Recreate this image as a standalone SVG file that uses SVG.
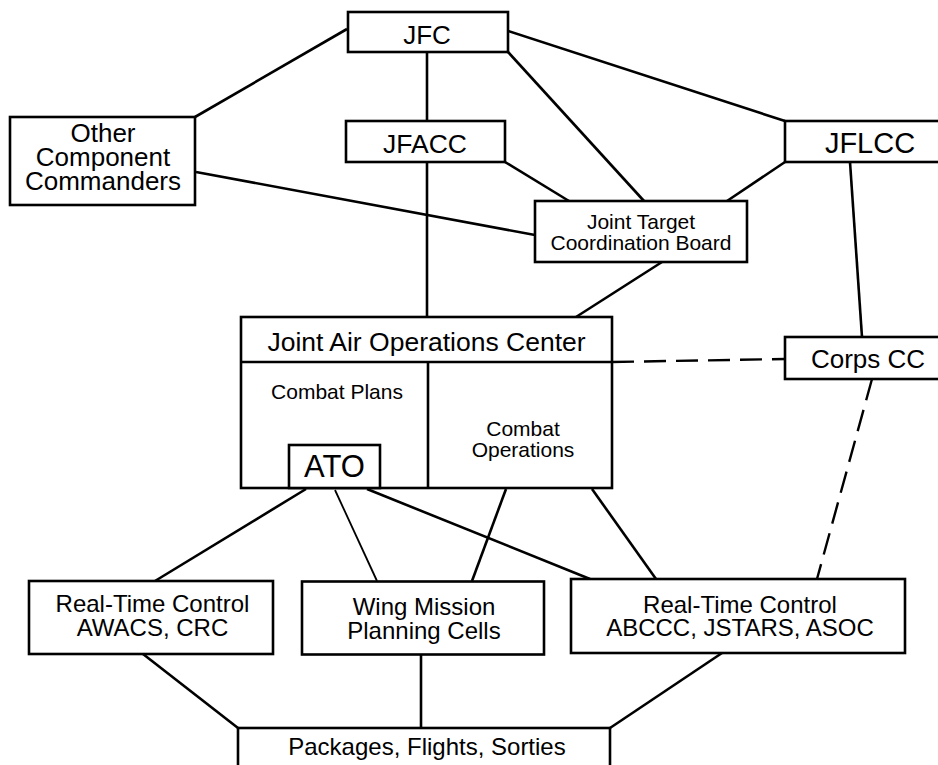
<svg xmlns="http://www.w3.org/2000/svg" width="938" height="765" viewBox="0 0 938 765">
  <style>
    .box { fill: #fff; stroke: #000; stroke-width: 2.6; }
    .ln { fill: none; stroke: #000; stroke-width: 2.6; }
    .thin { fill: none; stroke: #000; stroke-width: 1.8; }
    .dash { fill: none; stroke: #000; stroke-width: 2.4; stroke-dasharray: 22 10; }
    text { font-family: "Liberation Sans", Arial, Helvetica, sans-serif; fill: #000; text-anchor: middle; }
  </style>
  <rect width="938" height="765" fill="#fff"/>

  <!-- connectors -->
  <g id="connectors">
    <line class="ln" x1="347" y1="29" x2="195" y2="117"/>
    <line class="ln" x1="427" y1="52" x2="427" y2="121"/>
    <line class="ln" x1="508" y1="31" x2="785" y2="121"/>
    <line class="ln" x1="508" y1="52" x2="644" y2="201"/>
    <line class="ln" x1="505" y1="162" x2="569" y2="201"/>
    <line class="ln" x1="785" y1="162" x2="727" y2="201"/>
    <line class="ln" x1="196" y1="172" x2="535" y2="235"/>
    <line class="ln" x1="427" y1="162" x2="427" y2="317"/>
    <line class="ln" x1="662" y1="262" x2="576" y2="317"/>
    <line class="ln" x1="850" y1="162" x2="862" y2="337"/>
    <line class="dash" x1="612" y1="362" x2="785" y2="359"/>
    <line class="dash" x1="872" y1="379" x2="817" y2="579"/>
    <line class="thin" x1="383" y1="464" x2="453" y2="446"/>
    <line class="ln" x1="306" y1="489" x2="155" y2="581"/>
    <line class="thin" x1="335" y1="490" x2="377" y2="581"/>
    <line class="ln" x1="367" y1="489" x2="590" y2="579"/>
    <line class="ln" x1="506" y1="489" x2="472" y2="581"/>
    <line class="ln" x1="592" y1="489" x2="656" y2="579"/>
    <line class="ln" x1="143" y1="654" x2="238" y2="728"/>
    <line class="ln" x1="421" y1="654" x2="421" y2="728"/>
    <line class="ln" x1="722" y1="653" x2="610" y2="728"/>
  </g>

  <g id="jfc">
    <rect class="box" x="348" y="12" width="160" height="40"/>
    <text x="427" y="44" font-size="26">JFC</text>
  </g>

  <g id="jfacc">
    <rect class="box" x="346" y="121" width="159" height="41"/>
    <text x="425" y="153" font-size="26.5">JFACC</text>
  </g>

  <g id="other-commanders">
    <rect class="box" x="10" y="117" width="185" height="88"/>
    <text x="103" y="142" font-size="26">Other</text>
    <text x="103" y="166" font-size="26">Component</text>
    <text x="103" y="189.5" font-size="26">Commanders</text>
  </g>

  <g id="jflcc">
    <rect class="box" x="785" y="121" width="168" height="41"/>
    <text x="870" y="153" font-size="29">JFLCC</text>
  </g>

  <g id="jtcb">
    <rect class="box" x="535" y="201" width="212" height="61"/>
    <text x="641" y="229" font-size="21">Joint Target</text>
    <text x="641" y="249.5" font-size="21">Coordination Board</text>
  </g>

  <g id="jaoc">
    <rect class="box" x="241" y="317" width="371" height="171"/>
    <line class="ln" x1="241" y1="362" x2="612" y2="362"/>
    <line class="ln" x1="428" y1="362" x2="428" y2="488"/>
    <text x="426.5" y="351" font-size="26.5">Joint Air Operations Center</text>
    <text x="337" y="399" font-size="21">Combat Plans</text>
    <text x="523" y="436" font-size="21">Combat</text>
    <text x="523" y="457" font-size="21">Operations</text>
  </g>

  <g id="ato">
    <rect class="box" x="289" y="445" width="91" height="43"/>
    <text x="334.5" y="477" font-size="31">ATO</text>
  </g>

  <g id="corps-cc">
    <rect class="box" x="785" y="337" width="168" height="42"/>
    <text x="868" y="368" font-size="26">Corps CC</text>
  </g>

  <g id="rtc-awacs">
    <rect class="box" x="29" y="581" width="244" height="73"/>
    <text x="152.5" y="612" font-size="24">Real-Time Control</text>
    <text x="152.5" y="635.5" font-size="24">AWACS, CRC</text>
  </g>

  <g id="wing-mission">
    <rect class="box" x="302" y="581.5" width="242" height="73"/>
    <text x="424" y="615" font-size="24">Wing Mission</text>
    <text x="424" y="638.5" font-size="24">Planning Cells</text>
  </g>

  <g id="rtc-abccc">
    <rect class="box" x="571" y="579" width="334" height="74"/>
    <text x="740" y="612.5" font-size="24">Real-Time Control</text>
    <text x="740" y="636" font-size="24">ABCCC, JSTARS, ASOC</text>
  </g>

  <g id="packages">
    <rect class="box" x="238" y="728" width="372" height="50"/>
    <text x="427" y="755" font-size="24">Packages, Flights, Sorties</text>
  </g>
</svg>
